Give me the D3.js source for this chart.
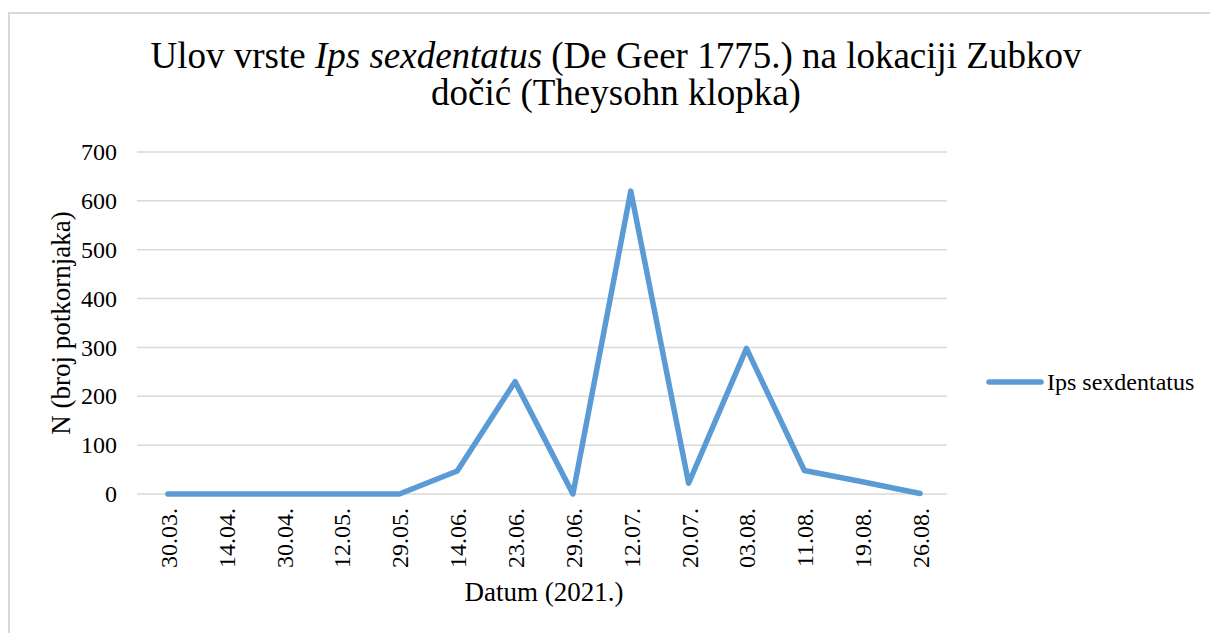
<!DOCTYPE html>
<html><head><meta charset="utf-8">
<script src="https://cdn.jsdelivr.net/npm/d3@7"></script>
<style>body{margin:0;background:#fff}svg{display:block}svg text{font-family:"Liberation Serif","Times New Roman",serif}</style>
</head><body><svg id="c" width="1210" height="633"></svg>
<script>
const categories = ["30.03.","14.04.","30.04.","12.05.","29.05.","14.06.","23.06.","29.06.","12.07.","20.07.","03.08.","11.08.","19.08.","26.08."];
const values = [0,0,0,0,0,47,230,0,620,22,298,48,25,1];
const yTicks = [0,100,200,300,400,500,600,700];
const seriesName = "Ips sexdentatus";

const svg = d3.select("#c");
const font = '"Liberation Serif","Times New Roman",serif';
svg.append("rect").attr("x",9).attr("y",13).attr("width",1300).attr("height",700)
  .attr("fill","#fff").attr("stroke","#d9d9d9").attr("stroke-width",2);

const L=137, R=947, T=152, B=494;
const x = d3.scalePoint().domain(categories).range([L+2,R+2]).padding(0.5);
const y = d3.scaleLinear().domain([0,700]).range([B,T]);

// gridlines
svg.append("g").selectAll("line").data(yTicks).join("line")
  .attr("x1",L).attr("x2",R).attr("y1",d=>y(d)).attr("y2",d=>y(d))
  .attr("stroke","#d9d9d9").attr("stroke-width",1.5);

// y axis
const ya = svg.append("g").attr("transform",`translate(${L},0)`)
  .call(d3.axisLeft(y).tickValues(yTicks).tickSize(0).tickPadding(20));
ya.select(".domain").remove();
ya.attr("font-family",null);
ya.selectAll("text").style("font-family",font).attr("font-size",24).attr("fill","#000");

// x axis
const xa = svg.append("g").attr("transform",`translate(0,${B})`)
  .call(d3.axisBottom(x).tickSize(0).tickPadding(0));
xa.select(".domain").remove();
xa.attr("font-family",null);
xa.selectAll("text").style("font-family",font).attr("font-size",24).attr("fill","#000")
  .attr("transform","rotate(-90)").attr("text-anchor","end").attr("dy","0.35em")
  .attr("x",-14).attr("y",0);

// line
svg.append("path").datum(values)
  .attr("d", d3.line().x((d,i)=>x(categories[i])).y(d=>y(d)))
  .attr("fill","none").attr("stroke","#5b9bd5").attr("stroke-width",5.5)
  .attr("stroke-linejoin","round").attr("stroke-linecap","round");

// title
const t = svg.append("text").attr("text-anchor","middle").style("font-family",font)
  .attr("font-size",37).attr("fill","#000");
const t1 = t.append("tspan").attr("x",616).attr("y",68);
t1.append("tspan").text("Ulov vrste ");
t1.append("tspan").attr("font-style","italic").text("Ips sexdentatus");
t1.append("tspan").text(" (De Geer 1775.) na lokaciji Zubkov");
t.append("tspan").attr("x",616).attr("y",105).text("dočić (Theysohn klopka)");

// axis titles
svg.append("text").attr("x",544).attr("y",601).attr("text-anchor","middle")
  .style("font-family",font).attr("font-size",27).text("Datum (2021.)");
svg.append("text").attr("transform","translate(70,323) rotate(-90)").attr("text-anchor","middle")
  .style("font-family",font).attr("font-size",27).text("N (broj potkornjaka)");

// legend
svg.append("line").attr("x1",989).attr("x2",1041).attr("y1",382).attr("y2",382)
  .attr("stroke","#5b9bd5").attr("stroke-width",5.5).attr("stroke-linecap","round");
svg.append("text").attr("x",1047).attr("y",390).style("font-family",font).attr("font-size",24)
  .text(seriesName);
</script></body></html>
